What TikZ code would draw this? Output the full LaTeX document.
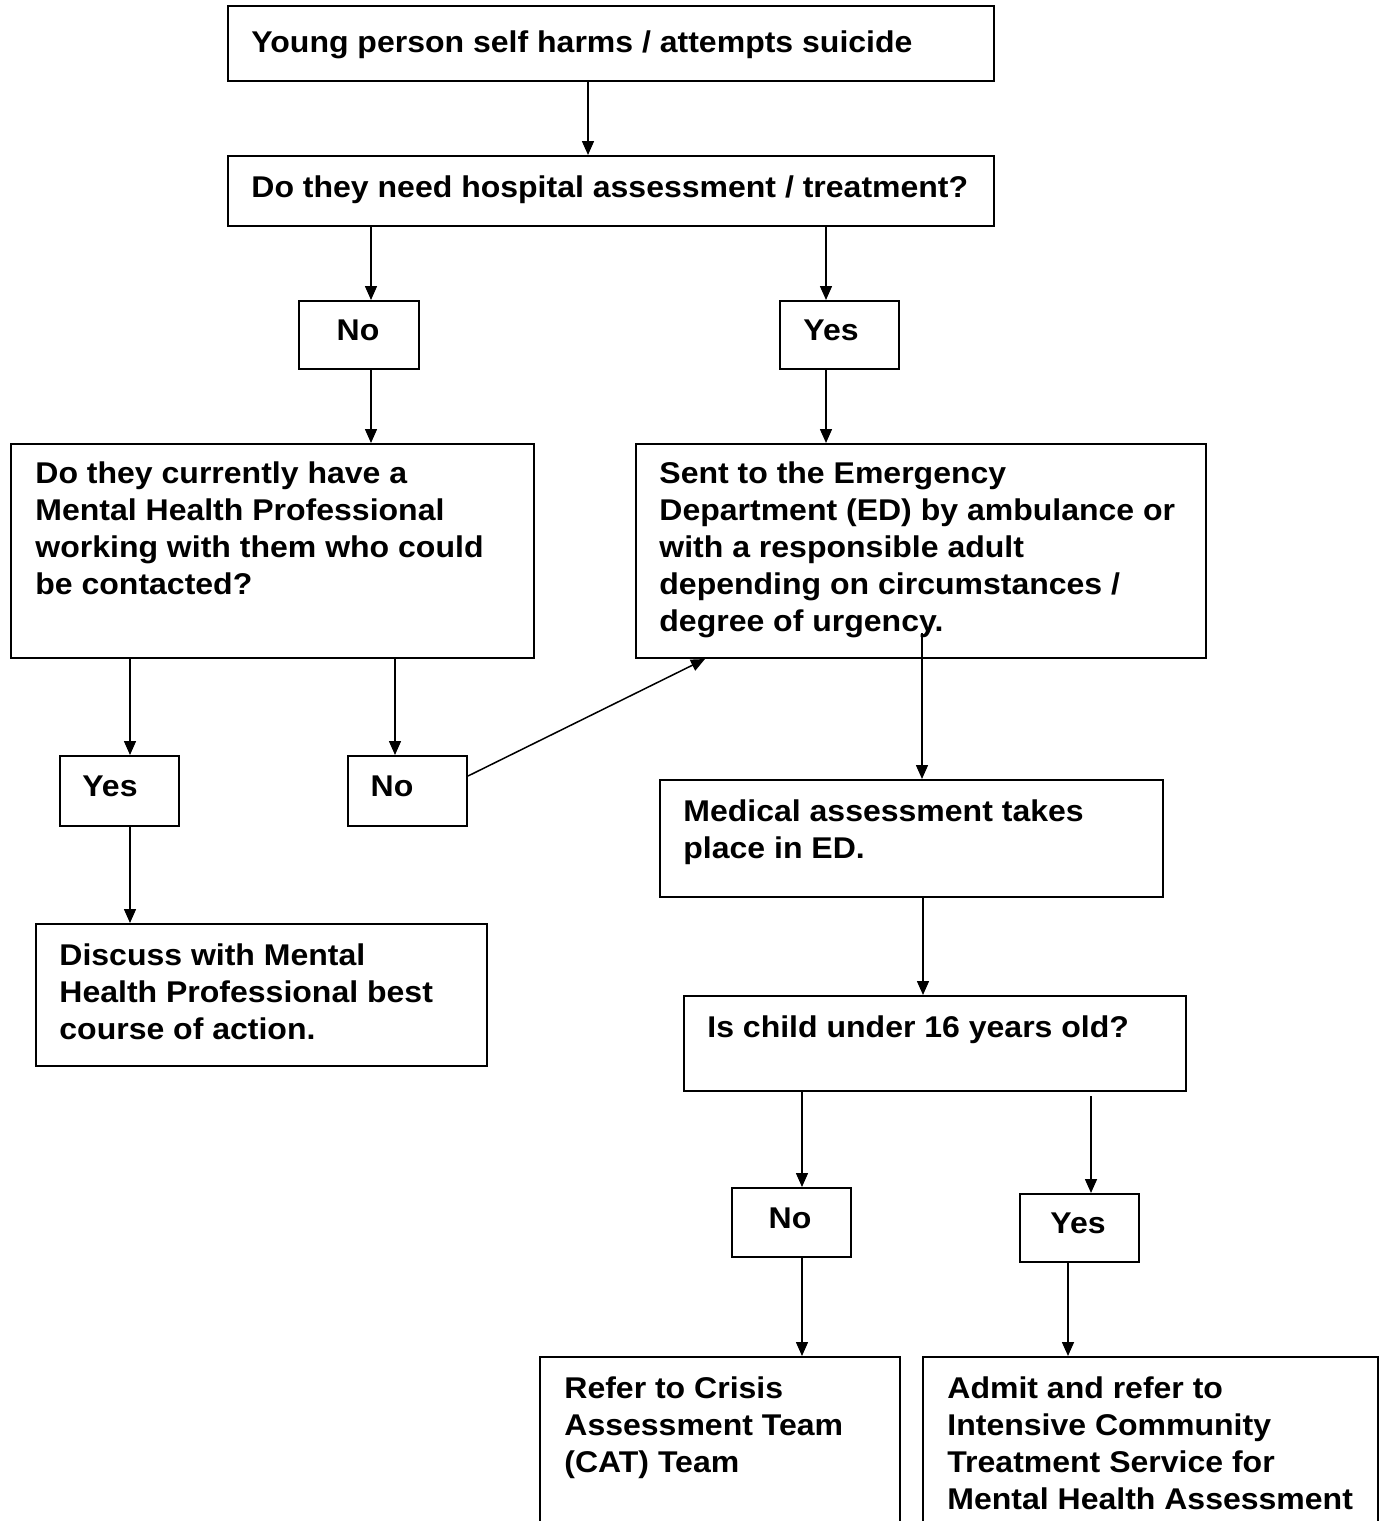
\documentclass[tikz,border=0pt]{standalone}
\usepackage{fontspec}
\setmainfont[FakeStretch=1.067]{Liberation Sans}
\usetikzlibrary{arrows.meta,calc}
\tikzset{
  box/.style={draw=black, line width=1pt, rectangle, inner sep=0pt, anchor=north west},
  txt/.style={inner sep=0pt, anchor=base west, font=\fontsize{15}{18.5}\selectfont\bfseries},
  ctxt/.style={inner sep=0pt, anchor=base, font=\fontsize{15}{18.5}\selectfont\bfseries},
  conn/.style={draw=black, line width=0.75pt, -{Triangle[length=7pt,width=6pt]}},
}
\newcommand{\mybox}[5]{% name, x1, y1, x2, y2
  \path let \n1={#4-#2}, \n2={#5-#3} in
    node[box, minimum width=\n1*0.5pt, minimum height=\n2*0.5pt] (#1) at (#2,#3) {};}
\newcommand{\lines}[1]{\parbox[t]{400pt}{\raggedright #1}}
\begin{document}
\begin{tikzpicture}[x=0.5pt,y=-0.5pt]
\useasboundingbox (0,0) rectangle (1380,1521);
% boxes
\mybox{b1}{227}{5}{993}{80}
\mybox{b2}{227}{155}{993}{225}
\mybox{n1}{298}{300}{418}{368}
\mybox{y1}{779}{300}{898}{368}
\mybox{q2}{10}{443}{533}{657}
\mybox{ed}{635}{443}{1205}{657}
\mybox{y2}{59}{755}{178}{825}
\mybox{n2}{347}{755}{466}{825}
\mybox{med}{659}{779}{1162}{896}
\mybox{disc}{35}{923}{486}{1065}
\mybox{child}{683}{995}{1185}{1090}
\mybox{n3}{731}{1187}{850}{1256}
\mybox{y3}{1019}{1193}{1138}{1261}
\mybox{refer}{539}{1356}{899}{1560}
\mybox{admit}{922}{1356}{1377}{1560}
% texts
\node[txt] (t1) at (251,52) {Young person self harms / attempts suicide};
\node[txt] (t2) at (251,197) {Do they need hospital assessment / treatment?};
\node[ctxt] (tn1) at (358,340) {No};
\node[ctxt] (ty1) at (831,340) {Yes};
\node[txt] (tq2) at (35,483) {\lines{Do they currently have a\\Mental Health Professional\\working with them who could\\be contacted?}};
\node[txt] (ted) at (659,483) {\lines{Sent to the Emergency\\Department (ED) by ambulance or\\with a responsible adult\\depending on circumstances /\\degree of urgency.}};
\node[ctxt] (ty2) at (110,796) {Yes};
\node[ctxt] (tn2) at (392,796) {No};
\node[txt] (tmed) at (683,821) {\lines{Medical assessment takes\\place in ED.}};
\node[txt] (tdisc) at (59,965) {\lines{Discuss with Mental\\Health Professional best\\course of action.}};
\node[txt] (tchild) at (707,1037) {Is child under 16 years old?};
\node[ctxt] (tn3) at (790,1228) {No};
\node[ctxt] (ty3) at (1078,1233) {Yes};
\node[txt] (trefer) at (564,1398) {\lines{Refer to Crisis\\Assessment Team\\(CAT) Team}};
\node[txt] (tadmit) at (947,1398) {\lines{Admit and refer to\\Intensive Community\\Treatment Service for\\Mental Health Assessment}};
% connectors
\draw[conn] (b1.south -| 588,0) -- (b2.north -| 588,0);
\draw[conn] (b2.south -| 371,0) -- (n1.north -| 371,0);
\draw[conn] (b2.south -| 826,0) -- (y1.north -| 826,0);
\draw[conn] (n1.south -| 371,0) -- (q2.north -| 371,0);
\draw[conn] (y1.south -| 826,0) -- (ed.north -| 826,0);
\draw[conn] (q2.south -| 130,0) -- (y2.north -| 130,0);
\draw[conn] (q2.south -| 395,0) -- (n2.north -| 395,0);
\draw[conn] (n2.east |- 0,776) -- (ed.south -| 705,0);
\coordinate (edin) at (922,633);
\draw[conn] (edin) -- (med.north -| edin);
\draw[conn] (y2.south -| 130,0) -- (disc.north -| 130,0);
\draw[conn] (med.south -| 923,0) -- (child.north -| 923,0);
\draw[conn] (child.south -| 802,0) -- (n3.north -| 802,0);
\coordinate (chr) at (1091,1096);
\draw[conn] (chr) -- (y3.north -| chr);
\draw[conn] (n3.south -| 802,0) -- (refer.north -| 802,0);
\draw[conn] (y3.south -| 1068,0) -- (admit.north -| 1068,0);
\end{tikzpicture}
\end{document}
